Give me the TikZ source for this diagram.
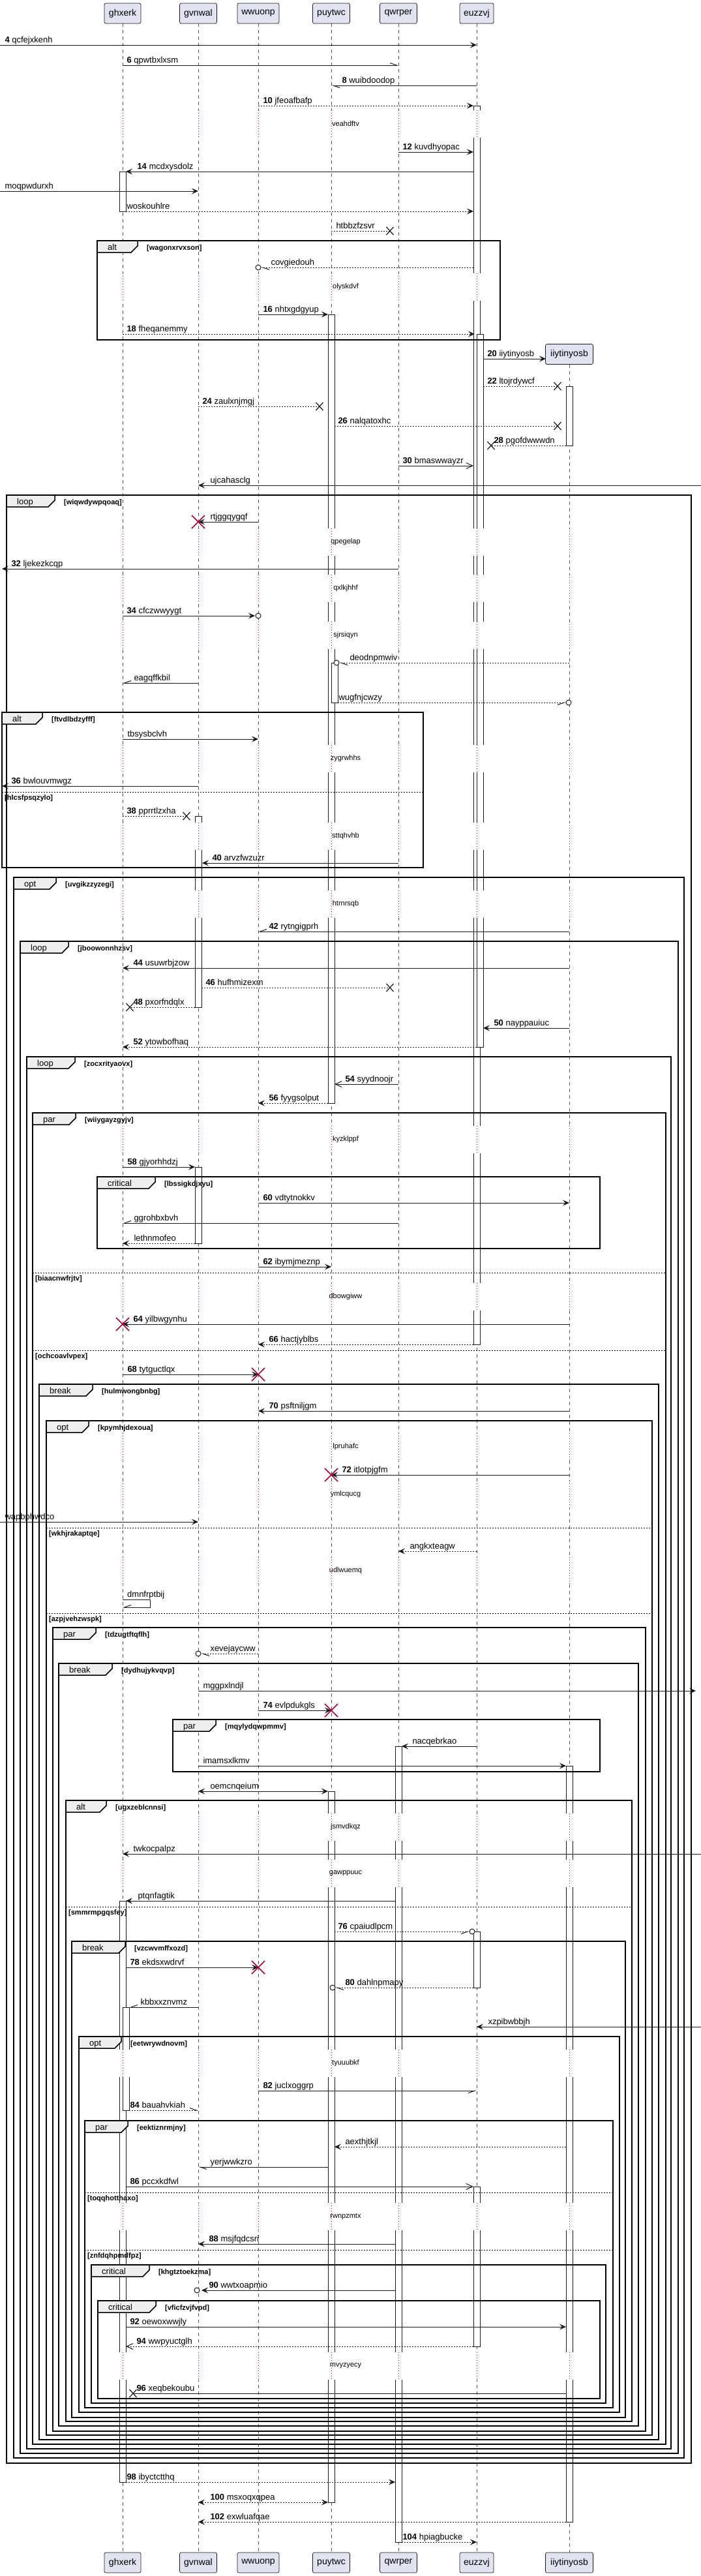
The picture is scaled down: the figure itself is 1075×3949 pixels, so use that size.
\documentclass[tikz,border=0pt]{standalone}
\usepackage{fontspec}
\setmainfont{Liberation Sans}
\usetikzlibrary{arrows.meta,calc}
\definecolor{lc}{HTML}{181818}
\definecolor{pfill}{HTML}{E2E2F0}
\definecolor{tabc}{HTML}{EEEEEE}
\definecolor{crim}{HTML}{A80036}
\definecolor{llc}{HTML}{555555}
\tikzset{
 lifel/.style={draw=llc, line width=0.6pt, dash pattern=on 5pt off 5pt},
 partbox/.style={draw=lc, fill=pfill, line width=0.7pt, rounded corners=2.5pt, minimum height=31pt, inner xsep=0pt, inner ysep=0pt, font=\fontsize{14}{16}\selectfont},
 actbox/.style={draw=lc, fill=white, line width=0.7pt},
 msol/.style={draw=lc, line width=1pt},
 mdot/.style={draw=lc, line width=1pt, dash pattern=on 2pt off 2pt},
 tfil/.style={-{Stealth[length=10pt,width=9pt,inset=4pt]}},
 tbf/.style={{Stealth[length=10pt,width=9pt,inset=4pt]}-{Stealth[length=10pt,width=9pt,inset=4pt]}},
 tthn/.style={-{Straight Barb[length=10pt,width=9pt]}},
 tha/.style={-{Straight Barb[harpoon,length=10pt,width=7pt]}},
 thb/.style={-{Straight Barb[harpoon,swap,length=10pt,width=7pt]}},
 mlab/.style={anchor=base west, yshift=4pt, inner sep=0pt, font=\fontsize{13}{15}\selectfont},
 frmline/.style={draw=black, line width=1.5pt},
 fkw/.style={anchor=base west, inner sep=0pt, font=\fontsize{13}{15}\selectfont},
 fcnd/.style={anchor=base west, inner sep=0pt, font=\bfseries\fontsize{11}{13}\selectfont},
 fsep/.style={draw=black, line width=1pt, dash pattern=on 2pt off 2pt},
 dlyline/.style={draw=crim, line width=0.8pt, dash pattern=on 1pt off 3pt},
 dlytxt/.style={inner sep=0pt, font=\fontsize{11}{13}\selectfont},
 redx/.style={draw=crim, line width=1.5pt},
 blkx/.style={draw=lc, line width=1.2pt},
}
% message rightward: style, from, fdx, to, tdx, y, label, label shift
\newcommand\sqR[8]{\draw[#1] ($(#2|-0,#6)+(#3,0)$) -- node[mlab,pos=0,xshift=#8pt]{#7} ($(#4|-0,#6)+(#5,0)$);}
\newcommand\sqL[8]{\draw[#1] ($(#2|-0,#6)+(#3,0)$) -- node[mlab,pos=1,xshift=#8pt]{#7} ($(#4|-0,#6)+(#5,0)$);}
\newcommand\sqA[5]{\draw[actbox] ($(#1|-0,#4)+(#2,0)$) rectangle ($(#1|-0,#5)+(#3,0)$);}
\newcommand\sqF[7]{%
 \draw[frmline] (#1,#3) rectangle (#2,#4);
 \filldraw[frmline,fill=tabc] (#1,#3) -- (#1+#6,#3) -- (#1+#6,#3+8) -- (#1+#6-10,#3+18) -- (#1,#3+18) -- cycle;
 \node[fkw] at (#1+16,#3+14) {#5};
 \node[fcnd] at (#1+#6+14,#3+14) {[#7]};}
\newcommand\sqE[4]{\draw[fsep] (#1,#3) -- (#2,#3); \node[fcnd] at (#1+4,#3+12) {[#4]};}
\newcommand\sqD[3]{\foreach \p in {#3}{\fill[white] ($(\p|-0,#1-21)+(-7,0)$) rectangle ($(\p|-0,#1+21)+(11,0)$); \draw[dlyline] (\p|-0,#1-21) -- (\p|-0,#1+21);} \node[dlytxt] at (530,#1) {#2};}
\newcommand\sqO[3]{\draw[draw=lc,line width=1pt,fill=white] ($(#1|-0,#3)+(#2,0)$) circle (4pt);}
\newcommand\sqBX[2]{\draw[blkx] (#1-5.5,#2-6) -- (#1+5.5,#2+6) (#1-5.5,#2+6) -- (#1+5.5,#2-6);}
\newcommand\sqRX[2]{\draw[redx] ($(#1|-0,#2)+(-10,-10)$) -- ($(#1|-0,#2)+(10,10)$) ($(#1|-0,#2)+(-10,10)$) -- ($(#1|-0,#2)+(10,-10)$);}
\begin{document}
\begin{tikzpicture}[x=1pt,y=-1pt]
\fill[white] (0,0) rectangle (1075,3949);
\useasboundingbox (0,0) rectangle (1075,3949);
\coordinate (L) at (0,0);
\coordinate (R) at (1075,0);
% participants
\node[partbox,minimum width=56pt] (gh) at (188,20.5) {ghxerk};
\node[partbox,minimum width=57pt] (gv) at (304,20.5) {gvnwal};
\node[partbox,minimum width=64pt] (ww) at (396,20.5) {wwuonp};
\node[partbox,minimum width=57pt] (pu) at (508,20.5) {puytwc};
\node[partbox,minimum width=57pt] (qw) at (611,20.5) {qwrper};
\node[partbox,minimum width=52pt] (eu) at (731,20.5) {euzzvj};
\node[partbox,minimum width=73pt] (ii) at (873,543) {iiytinyosb};
\node[partbox,minimum width=56pt] (ghB) at (188,3928.5) {ghxerk};
\node[partbox,minimum width=57pt] (gvB) at (304,3928.5) {gvnwal};
\node[partbox,minimum width=64pt] (wwB) at (396,3928.5) {wwuonp};
\node[partbox,minimum width=57pt] (puB) at (508,3928.5) {puytwc};
\node[partbox,minimum width=57pt] (qwB) at (611,3928.5) {qwrper};
\node[partbox,minimum width=52pt] (euB) at (731,3928.5) {euzzvj};
\node[partbox,minimum width=73pt] (iiB) at (873,3928.5) {iiytinyosb};
% lifelines
\draw[lifel] (gh.south) -- (ghB.north);
\draw[lifel] (gv.south) -- (gvB.north);
\draw[lifel] (ww.south) -- (wwB.north);
\draw[lifel] (pu.south) -- (puB.north);
\draw[lifel] (qw.south) -- (qwB.north);
\draw[lifel] (eu.south) -- (euB.north);
\draw[lifel] (ii.south) -- (iiB.north);
% activations
\sqA{eu}{-5}{5}{162}{2061}
\sqA{eu}{0}{10}{512}{1605}
\sqA{gh}{-5}{5}{263}{324}
\sqA{pu}{-5}{5}{482}{1691}
\sqA{pu}{0}{10}{1016}{1077}
\sqA{ii}{-5}{5}{592}{683}
\sqA{gv}{-5}{5}{1251}{1544}
\sqA{gv}{-5}{5}{1789}{1906}
\sqA{qw}{-5}{5}{2677}{3897}
\sqA{ii}{-5}{5}{2707}{3866}
\sqA{pu}{-5}{5}{2746}{3836}
\sqA{gh}{-5}{5}{2914}{3805}
\sqA{eu}{-5}{5}{2961}{3047}
\sqA{gh}{0}{10}{3077}{3235}
\sqA{eu}{-5}{5}{3352}{3597}
% frames
\sqF{149}{767}{369}{521}{alt}{62}{wagonxrvxson}
\sqF{10}{1060}{759}{3776}{loop}{74}{wiqwdywpqoaq}
\sqF{3}{649}{1092}{1330}{alt}{62}{ftvdlbdzyfff}
\sqE{3}{649}{1214}{hlcsfpsqzylo}
\sqF{21}{1049}{1345}{3768}{opt}{65}{uvgikzzyzegi}
\sqF{31}{1040}{1443}{3761}{loop}{74}{jboowonnhzsv}
\sqF{41}{1029}{1620}{3754}{loop}{74}{zocxrityaovx}
\sqF{50}{1021}{1706}{3747}{par}{66}{wiiygayzgyjv}
\sqE{50}{1021}{1951}{biaacnwfrjtv}
\sqE{50}{1021}{2070}{ochcoavlvpex}
\sqF{149}{920}{1804}{1914}{critical}{89}{lbssigkdjxyu}
\sqF{60}{1010}{2122}{3740}{break}{82}{hulmwongbnbg}
\sqF{71}{1000}{2178}{3733}{opt}{65}{kpymhjdexoua}
\sqE{71}{1000}{2342}{wkhjrakaptqe}
\sqE{71}{1000}{2473}{azpjvehzwspk}
\sqF{81}{990}{2495}{3727}{par}{66}{tdzugtftqflh}
\sqF{90}{979}{2550}{3719}{break}{82}{dydhujykvqvp}
\sqF{265}{920}{2636}{2716}{par}{66}{mqylydqwpmmv}
\sqF{101}{969}{2760}{3712}{alt}{62}{ugxzeblcnnsi}
\sqE{101}{969}{2923}{smmrmpgqsfey}
\sqF{110}{959}{2976}{3706}{break}{82}{vzcwvmffxozd}
\sqF{121}{950}{3122}{3698}{opt}{65}{eetwrywdnovm}
\sqF{130}{940}{3251}{3691}{par}{66}{eektiznrmjny}
\sqE{130}{940}{3361}{toqqhotthaxo}
\sqE{130}{940}{3449}{znfdqhpmdfpz}
\sqF{140}{929}{3472}{3684}{critical}{89}{khgtztoekzma}
\sqF{150}{920}{3527}{3677}{critical}{89}{vficfzvjfvpd}
% delays
\sqD{190}{veahdftv}{gh,gv,ww,pu,qw,eu}
\sqD{440}{olyskdvf}{gh,gv,ww,pu,qw,eu}
\sqD{831}{qpegelap}{gh,gv,ww,pu,qw,eu,ii}
\sqD{902}{qxlkjhhf}{gh,gv,ww,pu,qw,eu,ii}
\sqD{974}{sjrsiqyn}{gh,gv,ww,pu,qw,eu,ii}
\sqD{1163}{zygrwhhs}{gh,gv,ww,pu,qw,eu,ii}
\sqD{1282}{sttqhvhb}{gh,gv,ww,pu,qw,eu,ii}
\sqD{1386}{htrnrsqb}{gh,gv,ww,pu,qw,eu,ii}
\sqD{1747}{kyzklppf}{gh,gv,ww,pu,qw,eu,ii}
\sqD{1988}{dbowgiww}{gh,gv,ww,pu,qw,eu,ii}
\sqD{2218}{lpruhafc}{gh,gv,ww,pu,qw,eu,ii}
\sqD{2291}{ymlcqucg}{gh,gv,ww,pu,qw,eu,ii}
\sqD{2408}{udlwuemq}{gh,gv,ww,pu,qw,eu,ii}
\sqD{2801}{jsmvdkqz}{gh,gv,ww,pu,qw,eu,ii}
\sqD{2872}{gawppuuc}{gh,gv,ww,pu,qw,eu,ii}
\sqD{3163}{tyuuubkf}{gh,gv,ww,pu,qw,eu,ii}
\sqD{3398}{rwnpzmtx}{gh,gv,ww,pu,qw,eu,ii}
\sqD{3627}{mvyzyecy}{gh,gv,ww,pu,qw,eu,ii}
% messages
\sqR{msol,tfil}{L}{0}{eu}{0}{69}{\textbf{4} qcfejxkenh}{7}
\sqR{msol,tha}{gh}{0}{qw}{0}{100}{\textbf{6} qpwtbxlxsm}{6}
\sqL{msol,tha}{eu}{0}{pu}{0}{131}{\textbf{8} wuibdoodop}{16}
\sqR{mdot,tfil}{ww}{0}{eu}{-5}{162}{\textbf{10} jfeoafbafp}{7}
\sqR{msol,tfil}{qw}{0}{eu}{-5}{233}{\textbf{12} kuvdhyopac}{6}
\sqL{msol,tfil}{eu}{-5}{gh}{5}{263}{\textbf{14} mcdxysdolz}{17}
\sqR{msol,tfil}{L}{0}{gv}{0}{293}{moqpwdurxh}{7}
\sqR{mdot,tfil}{gh}{5}{eu}{-5}{324}{woskouhlre}{1}
\sqR{mdot}{pu}{0}{qw}{-13}{354}{htbbzfzsvr}{7} \sqBX{598}{354}
\sqL{mdot,tha}{eu}{-5}{ww}{4}{410}{covgiedouh}{15} \sqO{ww}{0}{410}
\sqR{msol,tfil}{ww}{0}{pu}{-5}{482}{\textbf{16} nhtxgdgyup}{7}
\sqR{mdot,tfil}{gh}{0}{eu}{-3}{512}{\textbf{18} fheqanemmy}{6}
\sqR{msol,tfil}{eu}{10}{ii}{-36}{550}{\textbf{20} iiytinyosb}{6}
\sqR{mdot}{eu}{10}{ii}{-18}{592}{\textbf{22} ltojrdywcf}{6} \sqBX{855}{592}
\sqR{mdot}{gv}{0}{pu}{-18}{623}{\textbf{24} zaulxnjmgj}{6} \sqBX{490}{623}
\sqR{mdot}{pu}{5}{ii}{-18}{653}{\textbf{26} nalqatoxhc}{5} \sqBX{855}{653}
\sqL{mdot}{ii}{-5}{eu}{22}{683}{\textbf{28} pgofdwwwdn}{4} \sqBX{753}{683}
\sqR{msol,tthn}{qw}{0}{eu}{-5}{714}{\textbf{30} bmaswwayzr}{6}
\sqL{msol,tfil}{R}{0}{gv}{0}{744}{ujcahasclg}{18}
\sqL{msol,tfil}{ww}{0}{gv}{0}{800}{rtjggqygqf}{18} \sqRX{gv}{800}
\sqL{msol,tfil}{qw}{0}{L}{3}{872}{\textbf{32} ljekezkcqp}{14}
\sqR{msol,tfil}{gh}{0}{ww}{-5}{944}{\textbf{34} cfczwwyygt}{6} \sqO{ww}{0}{944}
\sqL{mdot,tha}{ii}{0}{pu}{12}{1016}{deodnpmwiv}{16} \sqO{pu}{8}{1016}
\sqL{msol,thb}{gv}{0}{gh}{0}{1047}{eagqffkbil}{17}
\sqR{mdot,thb}{pu}{10}{ii}{-5}{1077}{wugfnjcwzy}{1} \sqO{ii}{-1}{1077}
\sqR{msol,tfil}{gh}{0}{ww}{0}{1133}{tbsysbclvh}{7}
\sqL{msol,tfil}{gv}{0}{L}{3}{1205}{\textbf{36} bwlouvmwgz}{14}
\sqR{mdot}{gh}{0}{gv}{-18}{1251}{\textbf{38} pprrtlzxha}{6} \sqBX{286}{1251}
\sqL{msol,tfil}{qw}{0}{gv}{6}{1323}{\textbf{40} arvzfwzuzr}{15}
\sqL{msol,thb}{ii}{0}{ww}{0}{1428}{\textbf{42} rytngigprh}{16}
\sqL{msol,tfil}{ii}{0}{gh}{0}{1484}{\textbf{44} usuwrbjzow}{16}
\sqR{mdot}{gv}{5}{qw}{-13}{1514}{\textbf{46} hufhmizexm}{6} \sqBX{598}{1514}
\sqL{mdot}{gv}{-5}{gh}{11}{1544}{\textbf{48} pxorfndqlx}{5} \sqBX{199}{1544}
\sqL{msol,tfil}{ii}{0}{eu}{10}{1576}{\textbf{50} nayppauiuc}{16}
\sqL{mdot,tfil}{eu}{0}{gh}{0}{1605}{\textbf{52} ytowbofhaq}{16}
\sqL{msol,tthn}{qw}{0}{pu}{5}{1662}{\textbf{54} syydnoojr}{16}
\sqL{mdot,tfil}{pu}{-5}{ww}{0}{1691}{\textbf{56} fyygsolput}{16}
\sqR{msol,tfil}{gh}{0}{gv}{-5}{1789}{\textbf{58} gjyorhhdzj}{7}
\sqR{msol,tfil}{ww}{0}{ii}{0}{1844}{\textbf{60} vdtytnokkv}{7}
\sqL{msol,thb}{qw}{0}{gh}{0}{1875}{ggrohbxbvh}{17}
\sqL{mdot,tfil}{gv}{-5}{gh}{0}{1906}{lethnmofeo}{17}
\sqR{msol,tfil}{ww}{0}{pu}{0}{1942}{\textbf{62} ibymjmeznp}{7}
\sqL{msol,tfil}{ii}{0}{gh}{0}{2030}{\textbf{64} yilbwgynhu}{16} \sqRX{gh}{2030}
\sqL{mdot,tfil}{eu}{-5}{ww}{0}{2061}{\textbf{66} hactjyblbs}{16}
\sqR{msol,tfil}{gh}{0}{ww}{0}{2107}{\textbf{68} tytguctlqx}{7} \sqRX{ww}{2107}
\sqL{msol,tfil}{ii}{0}{ww}{0}{2163}{\textbf{70} psftniljgm}{16}
\sqL{msol,tfil}{ii}{0}{pu}{0}{2261}{\textbf{72} itlotpjgfm}{16} \sqRX{pu}{2261}
\sqR{msol,tfil}{L}{0}{gv}{0}{2333}{wapbphwdco}{7}
\sqL{mdot,tfil}{eu}{0}{qw}{0}{2378}{angkxteagw}{17}
\draw[msol,thb] (gh|-0,2452) -- ($(gh|-0,2452)+(42,0)$) -- ($(gh|-0,2464)+(42,0)$) -- (gh|-0,2464);
\node[mlab] (selflab) at ($(gh|-0,2452)+(7,0)$) {dmnfrptbij};
\sqL{mdot,tha}{ww}{0}{gv}{4}{2535}{xevejaycww}{14} \sqO{gv}{0}{2535}
\sqR{msol,tfil}{gv}{0}{R}{-8}{2592}{mggpxlndjl}{7}
\sqR{msol,tfil}{ww}{0}{pu}{0}{2622}{\textbf{74} evlpdukgls}{7} \sqRX{pu}{2622}
\sqL{msol,tfil}{eu}{0}{qw}{5}{2677}{nacqebrkao}{16}
\sqR{msol,tfil}{gv}{0}{ii}{-5}{2707}{imamsxlkmv}{7}
\sqR{msol,tbf}{gv}{0}{pu}{-5}{2746}{oemcnqeium}{18}
\sqL{msol,tfil}{R}{0}{gh}{0}{2842}{twkocpalpz}{16}
\sqL{msol,tfil}{qw}{-5}{gh}{5}{2914}{ptqnfagtik}{18}
\sqR{mdot,thb}{pu}{5}{eu}{-11}{2961}{\textbf{76} cpaiudlpcm}{5} \sqO{eu}{-7}{2961}
\sqR{msol,tfil}{gh}{5}{ww}{0}{3016}{\textbf{78} ekdsxwdrvf}{6} \sqRX{ww}{3016}
\sqL{mdot,tha}{eu}{-5}{pu}{6}{3047}{\textbf{80} dahlnpmapy}{15} \sqO{pu}{2}{3047}
\sqL{msol,thb}{gv}{0}{gh}{10}{3077}{kbbxxznvmz}{17}
\sqL{msol,tfil}{R}{0}{eu}{0}{3107}{xzpibwbbjh}{17}
\sqR{msol,thb}{ww}{0}{eu}{0}{3205}{\textbf{82} juclxoggrp}{7}
\sqR{mdot,tha}{gh}{10}{gv}{0}{3235}{\textbf{84} bauahvkiah}{1}
\sqL{mdot,tfil}{ii}{-5}{pu}{5}{3291}{aexthjtkjl}{16}
\sqL{msol,tha}{pu}{-5}{gv}{0}{3322}{yerjwwkzro}{18}
\sqR{msol,tthn}{gh}{5}{eu}{-5}{3352}{\textbf{86} pccxkdfwl}{6}
\sqL{msol,tfil}{qw}{-5}{gv}{0}{3440}{\textbf{88} msjfqdcsri}{16}
\sqL{msol,tfil}{qw}{-5}{gv}{5}{3511}{\textbf{90} wwtxoapmio}{11} \sqO{gv}{-2}{3511}
\sqR{msol,tfil}{gh}{5}{ii}{-5}{3567}{\textbf{92} oewoxwwjly}{6}
\sqL{mdot,tthn}{eu}{-5}{gh}{5}{3597}{\textbf{94} wwpyuctglh}{16}
\sqL{msol}{ii}{-5}{gh}{16}{3669}{\textbf{96} xeqbekoubu}{5} \sqBX{204}{3669}
\sqR{mdot,tfil}{gh}{5}{qw}{-5}{3805}{\textbf{98} ibyctctthq}{1}
\sqR{mdot,tbf}{gv}{0}{pu}{-5}{3836}{\textbf{100} msxoqxqpea}{18}
\sqL{mdot,tfil}{ii}{-5}{gv}{0}{3866}{\textbf{102} exwluafqae}{18}
\sqR{mdot,tfil}{qw}{5}{eu}{0}{3897}{\textbf{104} hpiagbucke}{1}
\end{tikzpicture}
\end{document}
